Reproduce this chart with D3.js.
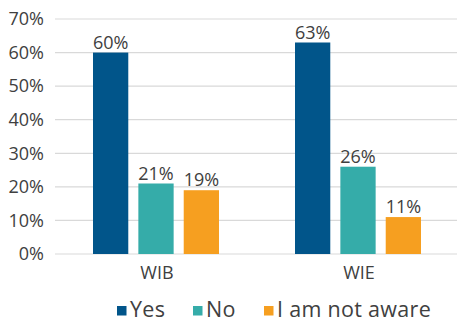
<!DOCTYPE html>
<html><head><meta charset="utf-8">
<script src="https://cdn.jsdelivr.net/npm/d3@7"></script>
<style>
html,body{margin:0;padding:0;background:#fff;}
text{font-family:"Open Sans",sans-serif;fill:#404040;}
</style></head>
<body><svg id="c" width="457" height="322"></svg>
<script>
const categories = ["WIB", "WIE"];
const seriesNames = ["Yes", "No", "I am not aware"];
const yesValues = [60, 63];
const noValues = [21, 26];
const notAwareValues = [19, 11];
const yTicks = [0, 10, 20, 30, 40, 50, 60, 70];
const colors = ["#01558a", "#35aca9", "#f69f20"];

const seriesValues = [yesValues, noValues, notAwareValues];
const svg = d3.select("#c");
const x0 = d3.scaleBand().domain(categories).range([56, 460]);
const x1 = d3.scaleBand().domain(seriesNames).range([37, 163]).paddingInner(0.2222);
const y = d3.scaleLinear().domain([0, 70]).range([254, 19]);

// gridlines
svg.append("g").selectAll("line").data(yTicks).join("line")
  .attr("x1", 55).attr("x2", 457)
  .attr("y1", d => y(d)).attr("y2", d => y(d))
  .attr("stroke", "#d9d9d9").attr("stroke-width", 1.2);

// y axis labels
const yAxis = d3.axisLeft(y).tickValues(yTicks).tickFormat(d => d + "%").tickSize(0).tickPadding(0);
const ya = svg.append("g").attr("transform", "translate(44,0)").call(yAxis);
ya.select(".domain").remove();
ya.selectAll("text").attr("font-size", 18).attr("font-family", "Open Sans").attr("fill", "#404040");

// bars
categories.forEach((cat, ci) => {
  const g = svg.append("g").attr("transform", `translate(${x0(cat)},0)`);
  seriesNames.forEach((s, si) => {
    const v = seriesValues[si][ci];
    g.append("rect").attr("x", x1(s)).attr("width", x1.bandwidth())
      .attr("y", y(v)).attr("height", y(0) - y(v)).attr("fill", colors[si]);
    g.append("text").attr("x", x1(s) + x1.bandwidth() / 2).attr("y", y(v) - 4)
      .attr("text-anchor", "middle").attr("font-size", 18).text(v + "%");
  });
});

// x axis labels
const xAxis = d3.axisBottom(x0).tickSize(0).tickPadding(0);
const xa = svg.append("g").attr("transform", "translate(0,266)").call(xAxis);
xa.select(".domain").remove();
xa.selectAll("text").attr("font-size", 18).attr("font-family", "Open Sans").attr("fill", "#404040");

// legend
const legendX = [117, 193, 264];
const lg = svg.append("g");
seriesNames.forEach((s, i) => {
  lg.append("rect").attr("x", legendX[i]).attr("y", 306).attr("width", 9.5).attr("height", 9.5).attr("fill", colors[i]);
  lg.append("text").attr("x", legendX[i] + 13).attr("y", 317).attr("font-size", 21.5).attr("letter-spacing", 0.3).text(s);
});
</script></body></html>
